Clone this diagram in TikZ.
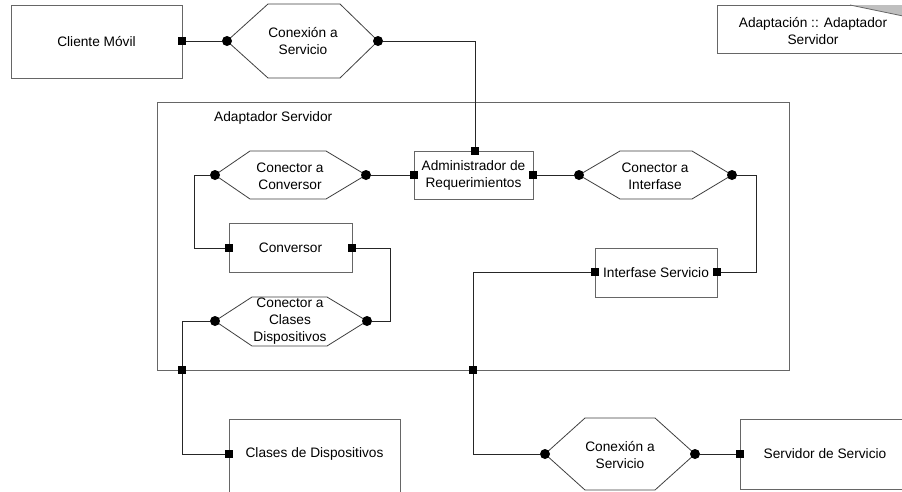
\documentclass[tikz,border=0pt]{standalone}
\usepackage{fontspec}
\setmainfont{Liberation Sans}
\begin{document}
\begin{tikzpicture}[x=1pt,y=-1pt,
  box/.style={draw=black!60, line width=0.8pt, fill=white},
  lbl/.style={font=\fontsize{13.7}{17}\selectfont, align=center, inner sep=0},
  sq/.style={fill=black, minimum size=8pt, inner sep=0, outer sep=0},
  ball/.style={circle, fill=black, minimum size=10pt, inner sep=0, outer sep=0},
  wire/.style={draw=black!85, line width=0.8pt},
  hexa/.style={draw=black!75, line width=0.8pt, fill=white}]
\useasboundingbox (0,0) rectangle (902,491);
\clip (0,0) rectangle (902,491);

% frame
\node[box, minimum width=632pt, minimum height=268pt] (frame) at (473,236) {};
\node[lbl, anchor=west] (framelbl) at (214,118) {Adaptador Servidor};

% note
\node[box, minimum width=190pt, minimum height=48pt] (note) at (812,29) {};
\fill[black!25] (850,5) -- (903,5) -- (903,16) -- cycle;
\draw[black!60, line width=0.8pt] (850,5) -- (903,16);
\node[lbl] (notelbl) at (813,31) {Adaptación :: Adaptador\\Servidor};

% boxes
\node[box, lbl, minimum width=171pt, minimum height=73pt] (cm) at (96.5,41.5) {Cliente Móvil};
\node[box, lbl, minimum width=119pt, minimum height=48pt] (adm) at (473.5,175) {Administrador de\\Requerimientos};
\node[box, lbl, minimum width=123pt, minimum height=49pt] (conv) at (290.5,247.5) {Conversor};
\node[box, lbl, minimum width=122pt, minimum height=49pt] (ints) at (656,272.5) {Interfase Servicio};
\node[box, minimum width=171pt, minimum height=80pt] (cd) at (314.5,459) {};
\node[lbl] (cdlbl) at (314.5,454) {Clases de Dispositivos};
\node[box, minimum width=170pt, minimum height=70pt] (ss) at (825,454) {};
\node[lbl] (sslbl) at (825,454) {Servidor de Servicio};

% hexagons
\draw[hexa] (227,41) -- (268,4) -- (340,4) -- (378,41) -- (340,78) -- (268,78) -- cycle;
\node[lbl] (h1) at (303,41) {Conexión a\\Servicio};
\draw[hexa] (215,175) -- (250,151) -- (326,151) -- (366,175) -- (326,199) -- (250,199) -- cycle;
\node[lbl] (h2) at (290,176) {Conector a\\Conversor};
\draw[hexa] (579,175) -- (620,151) -- (692,151) -- (732,175) -- (692,199) -- (620,199) -- cycle;
\node[lbl] (h3) at (655,176) {Conector a\\Interfase};
\draw[hexa] (215,321) -- (252,297) -- (327,297) -- (367,321) -- (327,346) -- (252,346) -- cycle;
\node[lbl] (h4) at (290,321) {Conector a\\Clases\\Dispositivos};
\draw[hexa] (545,454) -- (585,418) -- (655,418) -- (695,454) -- (655,490) -- (585,490) -- cycle;
\node[lbl] (h5) at (620,455) {Conexión a\\Servicio};

% ports
\node[sq] (cmR) at (182,41) {};
\node[ball] (h1L) at (227,41) {};
\node[ball] (h1R) at (378,41) {};
\node[sq] (admT) at (475,151) {};
\node[sq] (admL) at (414,175) {};
\node[sq] (admR) at (533,175) {};
\node[ball] (h2L) at (215,175) {};
\node[ball] (h2R) at (366,175) {};
\node[ball] (h3L) at (579,175) {};
\node[ball] (h3R) at (732,175) {};
\node[sq] (convL) at (229,248) {};
\node[sq] (convR) at (352,248) {};
\node[sq] (intL) at (595,272) {};
\node[sq] (intR) at (717,272) {};
\node[ball] (h4L) at (215,321) {};
\node[ball] (h4R) at (367,321) {};
\node[sq] (fp1) at (182,370) {};
\node[sq] (fp2) at (473,370) {};
\node[sq] (cdL) at (229,454) {};
\node[ball] (h5L) at (545,454) {};
\node[ball] (h5R) at (695,454) {};
\node[sq] (ssL) at (740,454) {};

% wires
\draw[wire] (cmR) -- (h1L);
\draw[wire] (h1R) -| (admT);
\draw[wire] (h2R) -- (admL);
\draw[wire] (admR) -- (h3L);
\draw[wire] (h2L) -- ++(-21,0) |- (convL);
\draw[wire] (convR) -- ++(38,0) |- (h4R);
\draw[wire] (h4L) -| (fp1);
\draw[wire] (fp1) |- (cdL);
\draw[wire] (h3R) -- ++(24,0) |- (intR);
\draw[wire] (intL) -| (fp2);
\draw[wire] (fp2) |- (h5L);
\draw[wire] (h5R) -- (ssL);
\end{tikzpicture}
\end{document}
